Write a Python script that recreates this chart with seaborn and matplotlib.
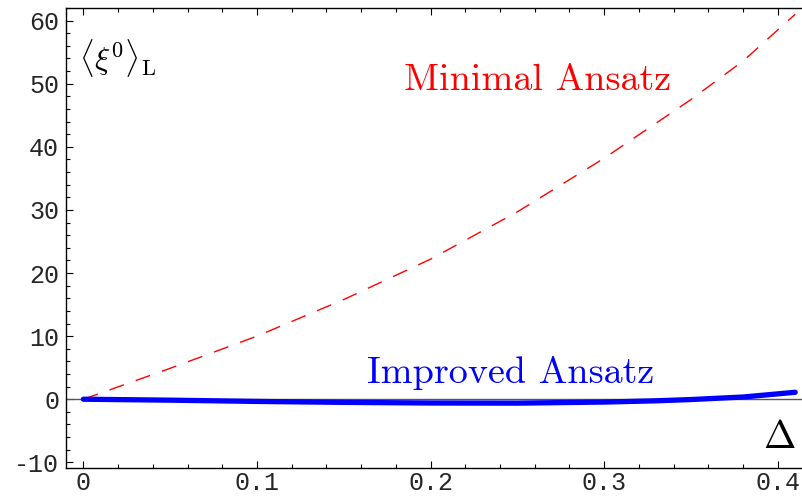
import matplotlib
matplotlib.use("Agg")
import matplotlib.pyplot as plt
from matplotlib.ticker import MultipleLocator, FixedLocator, FixedFormatter
import seaborn as sns
import pandas as pd

# data
delta_min = [0.0, 0.05, 0.10, 0.15, 0.20, 0.25, 0.30, 0.35, 0.38, 0.41]
minimal = [0.0, 4.9, 10.0, 15.8, 22.2, 29.7, 38.2, 47.5, 53.6, 61.0]
delta_imp = [0.0, 0.05, 0.10, 0.15, 0.20, 0.25, 0.30, 0.33, 0.35, 0.38, 0.41]
improved = [0.0, -0.15, -0.35, -0.5, -0.6, -0.62, -0.45, -0.25, -0.05, 0.35, 1.1]
xticks = [0, 0.1, 0.2, 0.3, 0.4]
xtick_labels = ["0", "0.1", "0.2", "0.3", "0.4"]
yticks = [-10, 0, 10, 20, 30, 40, 50, 60]
ytick_labels = ["-10", "0", "10", "20", "30", "40", "50", "60"]

sns.set_style("ticks")
plt.rcParams["mathtext.fontset"] = "cm"

df_min = pd.DataFrame({"x": delta_min, "y": minimal})
df_imp = pd.DataFrame({"x": delta_imp, "y": improved})

fig = plt.figure(figsize=(8.03, 4.96), dpi=100)
ax = fig.add_axes([66 / 803, 28 / 496, 1 - 66 / 803, (468 - 8) / 496])

ax.axhline(0, color="#555555", lw=1.0, zorder=1)
sns.lineplot(data=df_min, x="x", y="y", ax=ax, color="#ff0000", lw=1.0,
             zorder=3).lines[-1].set_dashes([11, 9])
sns.lineplot(data=df_imp, x="x", y="y", ax=ax, color="#0000ff", lw=3.8,
             zorder=4, solid_capstyle="round")

ax.set_xlim(-0.01, 0.4145)
ax.set_ylim(-10.9, 62)
ax.set_xlabel("")
ax.set_ylabel("")

ax.xaxis.set_major_locator(FixedLocator(xticks))
ax.xaxis.set_major_formatter(FixedFormatter(xtick_labels))
ax.yaxis.set_major_locator(FixedLocator(yticks))
ax.yaxis.set_major_formatter(FixedFormatter(ytick_labels))
ax.xaxis.set_minor_locator(MultipleLocator(0.02))
ax.yaxis.set_minor_locator(MultipleLocator(2))

for s in ["left", "bottom", "top"]:
    ax.spines[s].set_visible(True)
    ax.spines[s].set_linewidth(1.0)
    ax.spines[s].set_color("black")
ax.spines["right"].set_visible(False)

ax.tick_params(which="both", direction="in", top=True, right=False,
               color="black", width=0.8)
ax.tick_params(which="major", length=5)
ax.tick_params(which="minor", length=3)
ax.tick_params(axis="both", labelsize=18)
ax.tick_params(axis="y", pad=5)
ax.tick_params(axis="x", pad=2)
for lab in ax.get_xticklabels() + ax.get_yticklabels():
    lab.set_fontfamily("Liberation Mono")

ax.annotate(r"$\langle\xi^0\rangle_{\mathrm{L}}$", xy=(79, 496 - 58),
            xycoords="figure pixels", fontsize=23, color="black",
            va="center", ha="left")
ax.annotate("Minimal Ansatz", xy=(538, 496 - 80), xycoords="figure pixels",
            fontsize=27.5, color="#ff0000", family="cmr10", ha="center", va="center")
ax.annotate("Improved Ansatz", xy=(511, 496 - 373), xycoords="figure pixels",
            fontsize=27.5, color="#0000ff", family="cmr10", ha="center", va="center")
ax.annotate(r"$\Delta$", xy=(779, 496 - 437), xycoords="figure pixels",
            fontsize=28, color="black", ha="center", va="center")

fig.savefig("out.png", dpi=100)
